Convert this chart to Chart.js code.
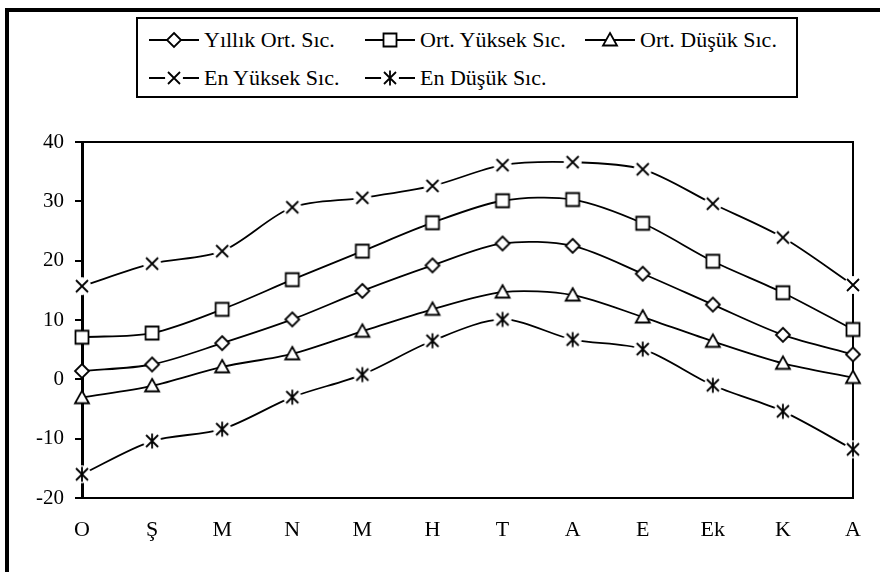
<!DOCTYPE html>
<html>
<head>
<meta charset="utf-8">
<script src="https://cdn.jsdelivr.net/npm/chart.js@4.4.0/dist/chart.umd.min.js"></script>
<style>
  html, body { margin: 0; padding: 0; background: #fff; overflow: hidden; }
  #wrap { position: relative; width: 880px; height: 572px; overflow: hidden; background: #fff; }
  #frame { position: absolute; left: 5px; top: 8px; width: 900px; height: 600px;
           border-top: 4px solid #000; border-left: 4px solid #000; }
  #chart { position: absolute; left: 0; top: 0; }
  #legend { position: absolute; left: 136px; top: 17px; width: 658px; height: 77px;
            border: 2px solid #000; background: #fff;
            font-family: "Liberation Serif", "Times New Roman", serif; font-size: 22px; color: #000; }
  .item { position: absolute; display: flex; align-items: center; height: 24px; }
  .item span { margin-left: 5px; white-space: nowrap; }
</style>
</head>
<body>
<div id="wrap">
  <div id="frame"></div>
  <canvas id="chart" width="880" height="572"></canvas>
  <div id="legend"></div>
</div>
<script>
// Monthly temperatures (°C)
const months = ['O', 'Ş', 'M', 'N', 'M', 'H', 'T', 'A', 'E', 'Ek', 'K', 'A'];
const yillikOrt = [1.4, 2.5, 6.1, 10.1, 14.9, 19.2, 22.9, 22.5, 17.8, 12.6, 7.5, 4.2];
const ortYuksek = [7.1, 7.8, 11.8, 16.8, 21.6, 26.4, 30.1, 30.3, 26.3, 19.9, 14.6, 8.4];
const ortDusuk = [-3.1, -1.1, 2.1, 4.3, 8.1, 11.8, 14.7, 14.2, 10.5, 6.4, 2.7, 0.3];
const enYuksek = [15.7, 19.5, 21.6, 29.0, 30.6, 32.6, 36.1, 36.6, 35.4, 29.6, 23.9, 15.9];
const enDusuk = [-16.0, -10.4, -8.4, -3.0, 0.8, 6.5, 10.1, 6.7, 5.1, -1.0, -5.4, -11.8];
const seriesNames = ['Yıllık Ort. Sıc.', 'Ort. Yüksek Sıc.', 'Ort. Düşük Sıc.', 'En Yüksek Sıc.', 'En Düşük Sıc.'];
const yMin = -20, yMax = 40, yStep = 10;

// Marker images: hollow shapes, crosses with a white halo so the line breaks around them
function makeMarker(kind) {
  const c = document.createElement('canvas');
  c.width = 22; c.height = 22;
  const g = c.getContext('2d');
  const cx = 11, cy = 11;
  g.strokeStyle = '#000';
  g.fillStyle = '#fff';
  g.lineWidth = 1.8;
  g.beginPath();
  if (kind === 'diamond') {
    g.moveTo(cx, cy - 7); g.lineTo(cx + 7, cy); g.lineTo(cx, cy + 7); g.lineTo(cx - 7, cy); g.closePath();
    g.fill(); g.stroke();
  } else if (kind === 'square') {
    g.rect(cx - 6.5, cy - 6.5, 13, 13);
    g.fill(); g.stroke();
  } else if (kind === 'triangle') {
    g.moveTo(cx, cy - 7); g.lineTo(cx + 7, cy + 5.5); g.lineTo(cx - 7, cy + 5.5); g.closePath();
    g.fill(); g.stroke();
  } else {
    g.arc(cx, cy, 9, 0, Math.PI * 2);
    g.fill();
    g.beginPath();
    g.moveTo(cx - 6, cy - 6); g.lineTo(cx + 6, cy + 6);
    g.moveTo(cx + 6, cy - 6); g.lineTo(cx - 6, cy + 6);
    if (kind === 'star') { g.moveTo(cx, cy - 7.5); g.lineTo(cx, cy + 7.5); }
    g.stroke();
  }
  return c;
}
const markerKinds = ['diamond', 'square', 'triangle', 'cross', 'star'];
const markers = markerKinds.map(makeMarker);
const seriesValues = [yillikOrt, ortYuksek, ortDusuk, enYuksek, enDusuk];

const datasets = seriesValues.map((vals, i) => ({
  label: seriesNames[i],
  data: vals,
  borderColor: '#000',
  backgroundColor: '#fff',
  borderWidth: 1.8,
  tension: 0.3,
  pointStyle: markers[i],
  pointRadius: 7,
  clip: false
}));

// Top and right edges of the plot frame
const plotFrame = {
  id: 'plotFrame',
  beforeDatasetsDraw(chart) {
    const { ctx, chartArea: a } = chart;
    ctx.save();
    ctx.strokeStyle = '#000';
    ctx.lineWidth = 2;
    ctx.beginPath();
    ctx.moveTo(a.left, a.top); ctx.lineTo(a.right, a.top); ctx.lineTo(a.right, a.bottom);
    ctx.stroke();
    ctx.restore();
  }
};

const serif = 'Liberation Serif';
const chart = new Chart(document.getElementById('chart'), {
  type: 'line',
  data: { labels: months, datasets },
  plugins: [plotFrame],
  options: {
    responsive: false,
    animation: false,
    events: [],
    layout: { padding: { top: 142, right: 27, bottom: 0, left: 0 } },
    plugins: { legend: { display: false }, tooltip: { enabled: false } },
    scales: {
      x: {
        grid: { display: false, drawTicks: false },
        border: { display: true, color: '#000', width: 2 },
        ticks: { color: '#000', font: { family: serif, size: 22 }, padding: 19, maxRotation: 0, autoSkip: false },
        afterFit(s) { s.height = 74; }
      },
      y: {
        min: yMin, max: yMax,
        grid: { display: true, drawOnChartArea: false, drawTicks: true, tickLength: 7, color: '#000', lineWidth: 2 },
        border: { display: true, color: '#000', width: 3 },
        ticks: { stepSize: yStep, color: '#000', font: { family: serif, size: 21 }, padding: 11 },
        afterFit(s) { s.width = 82; }
      }
    }
  }
});

// Legend built from the chart's datasets
const legendPos = [[11, 9], [227, 9], [447, 9], [11, 47], [227, 47]];
const legendEl = document.getElementById('legend');
chart.data.datasets.forEach((ds, i) => {
  const item = document.createElement('div');
  item.className = 'item';
  item.style.left = legendPos[i][0] + 'px';
  item.style.top = legendPos[i][1] + 'px';
  const sym = document.createElement('canvas');
  sym.width = 50; sym.height = 24;
  const g = sym.getContext('2d');
  g.strokeStyle = '#000'; g.lineWidth = 1.8;
  g.beginPath(); g.moveTo(0, 12); g.lineTo(50, 12); g.stroke();
  g.drawImage(ds.pointStyle, 25 - 11, 12 - 11);
  const txt = document.createElement('span');
  txt.textContent = ds.label;
  item.appendChild(sym);
  item.appendChild(txt);
  legendEl.appendChild(item);
});
</script>
</body>
</html>
